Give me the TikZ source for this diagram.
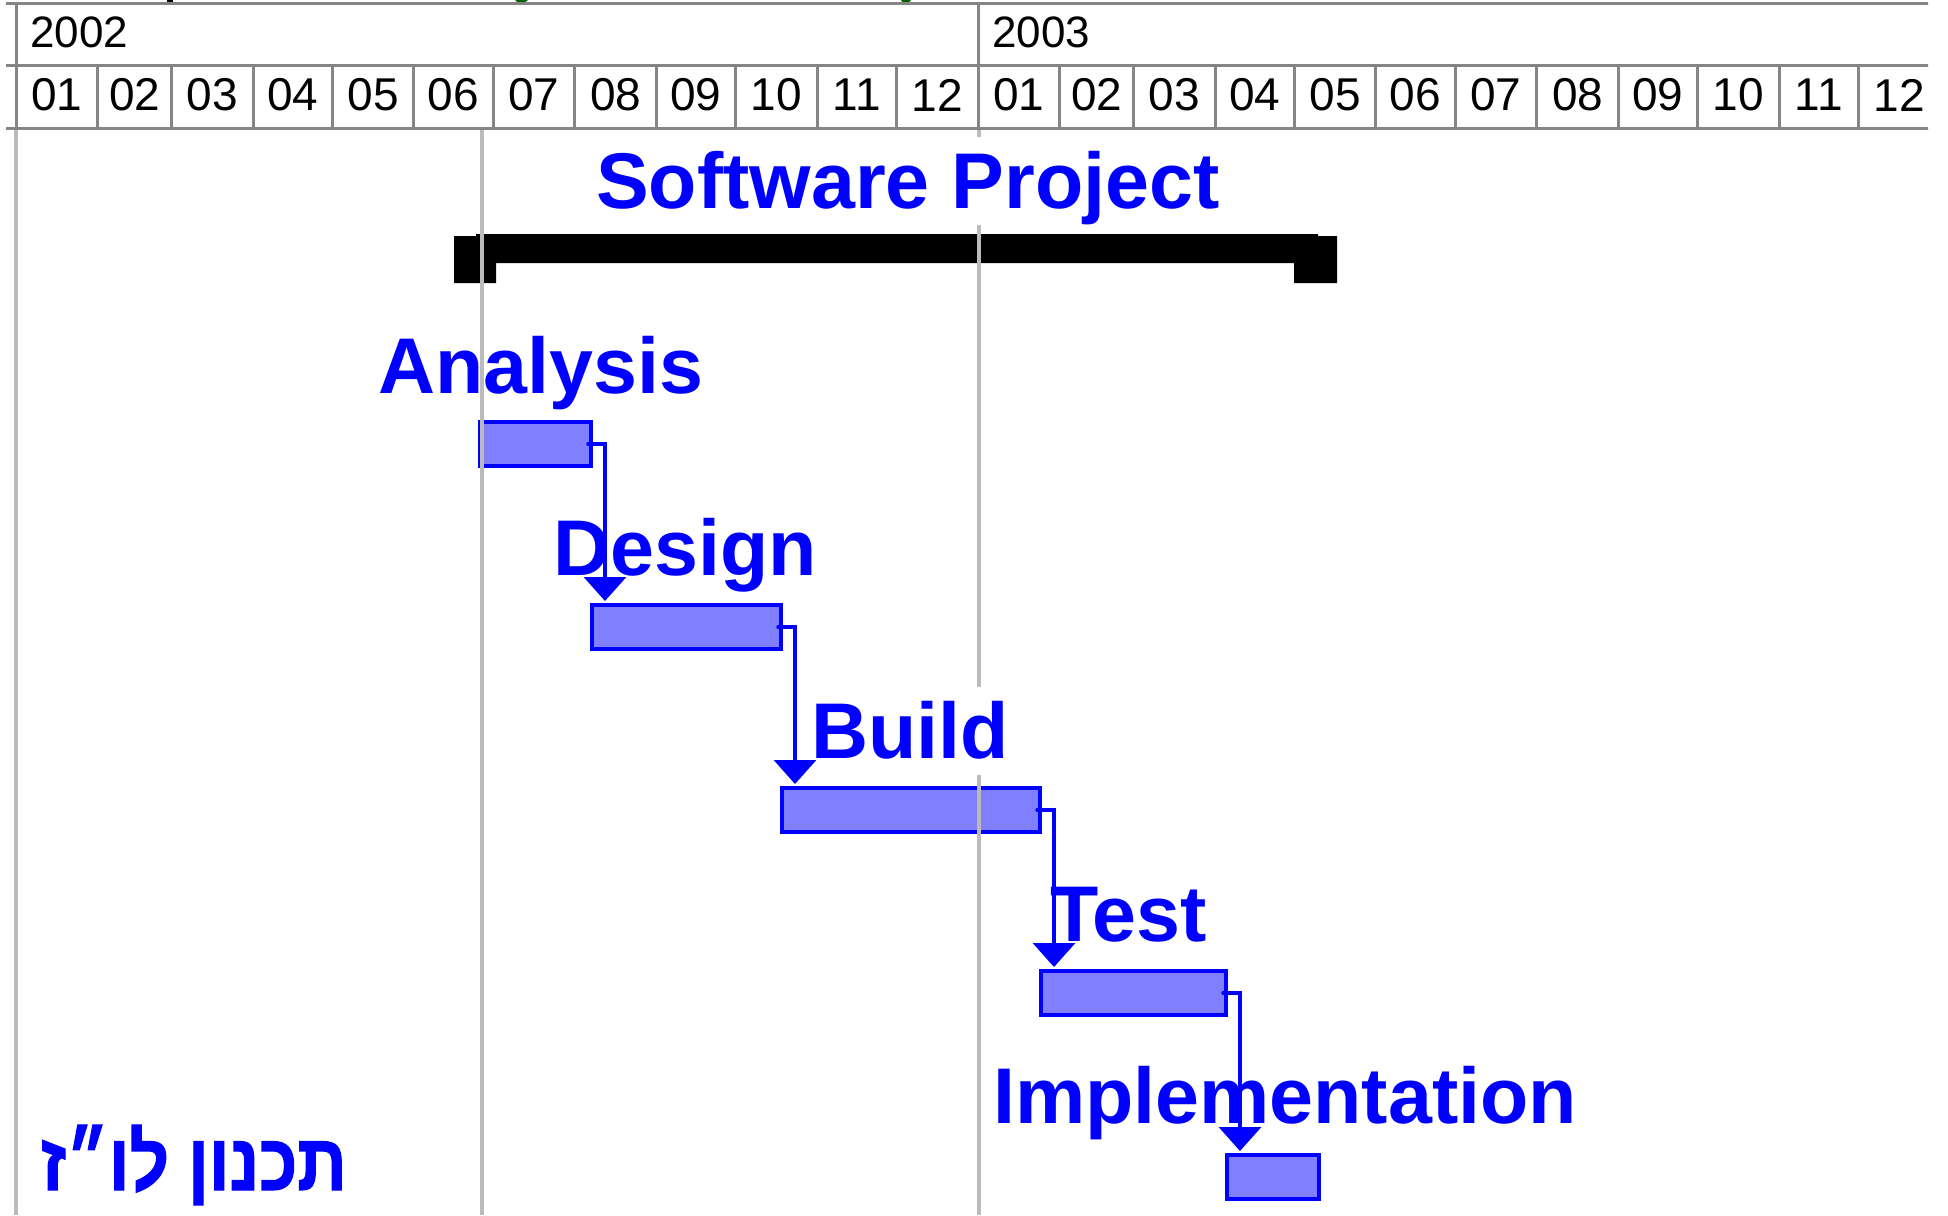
\documentclass[tikz,border=0pt]{standalone}
\usepackage{fontspec}
\setmainfont{Liberation Sans}
\newfontfamily\hebfont[Script=Hebrew,UprightFont={* Bold},FakeStretch=0.86,FakeBold=1.5]{Liberation Sans}
\TeXXeTstate=1
\usetikzlibrary{arrows.meta}
\definecolor{hdrgray}{HTML}{858585}
\definecolor{gridgray}{HTML}{BBBBBB}
\definecolor{taskblue}{HTML}{0000FF}
\definecolor{taskfill}{HTML}{8080FF}
\definecolor{fraggreen}{HTML}{006400}
\tikzset{
  hdrline/.style={draw=hdrgray, line width=3pt},
  gridln/.style={draw=gridgray, line width=3.5pt},
  monthnum/.style={font={\fontsize{46}{55}\selectfont}, inner sep=0pt, text=black},
  yearnum/.style={font={\fontsize{44}{53}\selectfont}, inner sep=0pt, anchor=base west, text=black},
  tasklabel/.style={font={\fontsize{79}{95}\selectfont\bfseries}, text=taskblue, inner sep=0pt,
    anchor=base west, text height=71.5pt, text depth=16.7pt},
  bar/.style={draw=taskblue, fill=taskfill, line width=4pt, inner sep=0pt, anchor=north west,
    minimum height=44pt},
  conn/.style={draw=taskblue, line width=3.5pt, line cap=round,
    -{Triangle[width=42pt,length=24pt]}},
  summary/.style={fill=black}
}
\begin{document}
\begin{tikzpicture}[x=1pt,y=-1pt]
\useasboundingbox (0,0) rectangle (1948,1215);
\fill[white] (0,0) rectangle (1948,1215);

% fragments of text cut off at the top edge
\fill[black] (167,0) rectangle (173,3);
\fill[fraggreen] (515,0) -- (528,0) -- (524,3) -- (518,3) -- cycle;
\fill[fraggreen] (901,0) -- (911,0) -- (908,3) -- (903,3) -- cycle;

% timescale header
\begin{scope}
  \clip (0,0) rectangle (1928,1215);
  \draw[hdrline] (6,4) -- (1948,4);
  \draw[hdrline] (6,66) -- (1948,66);
  \draw[hdrline] (6,128) -- (1948,128);
  \draw[hdrline] (16,4) -- (16,128);
  \draw[hdrline] (978,4) -- (978,66);
  \node[yearnum] (y2002) at (30,48) {2002};
  \node[yearnum] (y2003) at (992,48) {2003};
  \foreach \a/\b/\m in {0/31/01,31/59/02,59/90/03,90/120/04,120/151/05,151/181/06,
                        181/212/07,212/243/08,243/273/09,273/304/10,304/334/11,334/365/12} {
    \foreach \yr in {0,365} {
      \pgfmathsetmacro\xa{16+(\a+\yr)*2.6356}
      \pgfmathsetmacro\xb{16+(\b+\yr)*2.6356}
      \draw[hdrline] (\xb,66) -- (\xb,128);
      \node[monthnum] (m\yr-\m) at ({(\xa+\xb)/2},95) {\m};
    }
  }
\end{scope}

% summary bar
\fill[summary] (454,236) -- (476,236) -- (476,234) -- (1318,234) -- (1318,236) -- (1337,236)
  -- (1337,283) -- (1294,283) -- (1294,263) -- (496,263) -- (496,283) -- (454,283) -- cycle;

% task bars
\node[bar, minimum width=111pt] (ana) at (478,420) {};
\node[bar, minimum width=189pt] (des) at (590,603) {};
\node[bar, minimum width=258pt] (bld) at (780,786) {};
\node[bar, minimum width=185pt] (tst) at (1039,969) {};
\node[bar, minimum width=92pt]  (imp) at (1225,1153) {};

% gridlines
\draw[gridln] (16,130) -- (16,1215);
\draw[gridln] (979,130) -- (979,1215);

% labels
\node[tasklabel, fill=white] (title) at (596,208) {Software Project};
\node[tasklabel] (lana) at (378,393) {Analysis};
\node[tasklabel] (ldes) at (553,575) {Design};
\node[tasklabel, fill=white] (lbld) at (811,758) {Build};
\node[tasklabel] (ltst) at (1050,941) {Test};
\node[tasklabel] (limp) at (993,1123) {Implementation};
\node[font={\fontsize{80}{96}\selectfont}, text=taskblue, inner sep=0pt, anchor=base east]
  (heb) at (347,1190) {\hebfont\beginR תכנון לו״ז\endR};

\draw[gridln] (482,130) -- (482,1215);

% dependencies
\draw[conn] ([xshift=-5pt]ana.east) -| ([xshift=15pt,yshift=2pt]des.north west);
\draw[conn] ([xshift=-5pt]des.east) -| ([xshift=15pt,yshift=2pt]bld.north west);
\draw[conn] ([xshift=-5pt]bld.east) -| ([xshift=15pt,yshift=2pt]tst.north west);
\draw[conn] ([xshift=-5pt]tst.east) -| ([xshift=15pt,yshift=2pt]imp.north west);
\end{tikzpicture}
\end{document}
